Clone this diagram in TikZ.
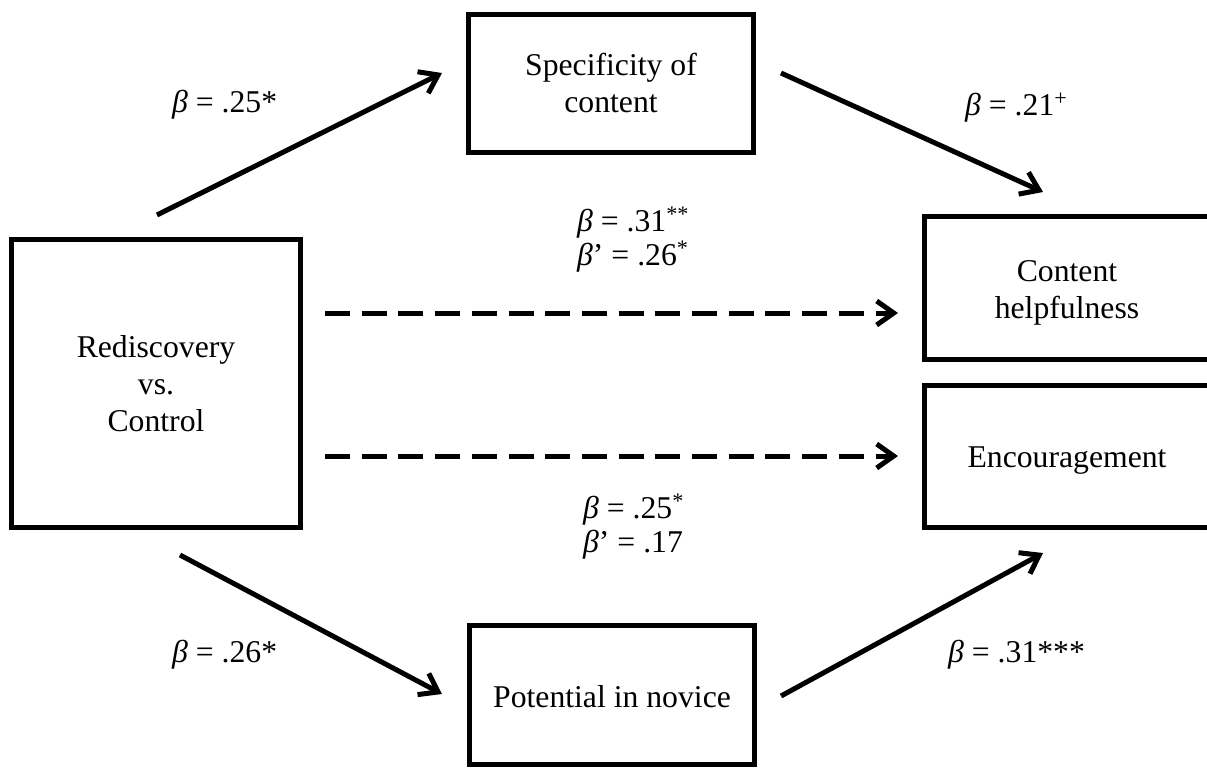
\documentclass[tikz,border=0pt]{standalone}
\usepackage{fontspec}
\setmainfont{Liberation Serif}
\usetikzlibrary{arrows.meta}
\begin{document}
\begin{tikzpicture}[x=1pt,y=-1pt,
  box/.style={draw, line width=5pt, inner sep=0pt, minimum width=285pt},
  txt/.style={font=\fontsize{31.7}{37}\selectfont, align=center, inner sep=0pt},
  coef/.style={font=\fontsize{31.7}{34}\selectfont, inner sep=0pt, anchor=base west},
  effect/.style={line width=5pt, -{Straight Barb[length=17pt,width=24pt]}},
  direct/.style={effect, dash pattern=on 25pt off 11.7pt}]

\clip (0,0) rectangle (1207,769);

% variables
\node[box, minimum width=289pt, minimum height=288pt] (redis) at (156,383.5) {};
\node[box, minimum height=138pt] (spec) at (611,83.5) {};
\node[box, minimum height=139pt] (pot) at (612,695) {};
\node[box, minimum height=143pt] (help) at (1067,288) {};
\node[box, minimum height=142pt] (enc) at (1067,456.5) {};

\node[txt] (redisT) at (156,383.7) {Rediscovery\\vs.\\Control};
\node[txt] (specT) at (611,82.7) {Specificity of\\content};
\node[txt] (potT) at (612,697) {Potential in novice};
\node[txt] (helpT) at (1067,292.7) {Content\\helpfulness};
\node[txt] (encT) at (1067,460.7) {Encouragement};

% path end points
\coordinate (a1s) at (157,215);  \coordinate (a1e) at (442,73);
\coordinate (a2s) at (781,73);   \coordinate (a2e) at (1043,192);
\coordinate (a3s) at (180,555);  \coordinate (a3e) at (442,694);
\coordinate (a4s) at (781,696);  \coordinate (a4e) at (1043,553);
\coordinate (d1s) at (325,313);  \coordinate (d1e) at (898,313);
\coordinate (d2s) at (325,456);  \coordinate (d2e) at (898,456);

\draw[effect] (a1s) -- (a1e);
\draw[effect] (a2s) -- (a2e);
\draw[effect] (a3s) -- (a3e);
\draw[effect] (a4s) -- (a4e);
\draw[direct] (d1s) -- (d1e);
\draw[direct] (d2s) -- (d2e);

% coefficients
\node[coef] (c1) at (172,112) {\textit{β} = .25*};
\node[coef] (c2) at (965,115) {\textit{β} = .21\textsuperscript{+}};
\node[coef] (c3a) at (577,231) {\textit{β} = .31\textsuperscript{**}};
\node[coef] (c3b) at (577,265) {\textit{β}’ = .26\textsuperscript{*}};
\node[coef] (c4a) at (583,518) {\textit{β} = .25\textsuperscript{*}};
\node[coef] (c4b) at (583,552) {\textit{β}’ = .17};
\node[coef] (c5) at (172,662) {\textit{β} = .26*};
\node[coef] (c6) at (948,662) {\textit{β} = .31***};
\end{tikzpicture}
\end{document}
